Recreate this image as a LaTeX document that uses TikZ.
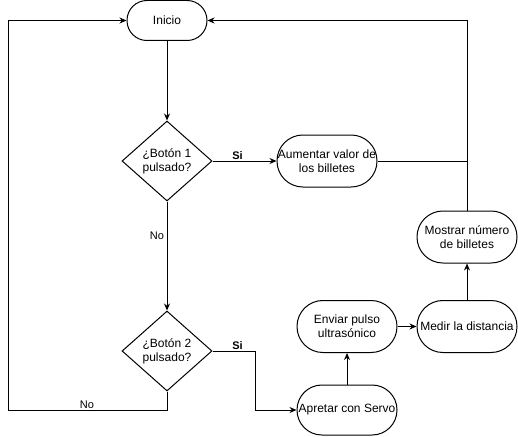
\documentclass[tikz,border=0pt]{standalone}
\usepackage{fontspec}
\setmainfont{Liberation Sans}
\usetikzlibrary{shapes.geometric,arrows.meta}

\begin{document}
\begin{tikzpicture}[x=1pt,y=-1pt,line width=1pt,
  terminal/.style={draw,rectangle,rounded corners=25.9pt,minimum width=100pt,minimum height=52pt,inner sep=0pt,align=center,font=\fontsize{12}{14}\selectfont},
  decision/.style={draw,diamond,aspect=1,minimum width=90pt,minimum height=80pt,inner sep=0pt,align=center,font=\fontsize{12}{14}\selectfont},
  etiq/.style={inner sep=0pt,font=\fontsize{11}{13}\selectfont},
  arr/.style={-{Stealth[length=7pt,width=6pt]}}]
\useasboundingbox (0,0) rectangle (518,436);
% nodos
\node[terminal,minimum width=80pt,minimum height=40pt,rounded corners=19.9pt] (inicio) at (167,20.5) {Inicio};
\node[decision] (boton1) at (167,161) {¿Botón 1\\pulsado?};
\node[terminal] (aumentar) at (327,161) {Aumentar valor de\\los billetes};
\node[decision] (boton2) at (167,351) {¿Botón 2\\pulsado?};
\node[terminal,minimum height=50pt,rounded corners=24.9pt] (apretar) at (347,410) {Apretar con Servo};
\node[terminal] (enviar) at (347,326.5) {Enviar pulso\\ultrasónico};
\node[terminal] (medir) at (467,326.5) {Medir la distancia};
\node[terminal] (mostrar) at (467,237) {Mostrar número\\de billetes};
% etiquetas
\node[etiq,font=\fontsize{11}{13}\selectfont\bfseries] (si1) at (237.5,156) {Si};
\node[etiq,font=\fontsize{11}{13}\selectfont\bfseries] (si2) at (237.5,346) {Si};
\node[etiq] (no1) at (157,236) {No};
\node[etiq] (no2) at (87,405) {No};
\coordinate (codo) at (255,351);
\coordinate (retorno) at (8,410);
% conexiones
\draw[arr] (inicio) -- (boton1);
\draw[arr] (boton1) -- (aumentar);
\draw[arr] (boton1) -- (boton2);
\draw[arr] (boton2.east) -- (codo) |- (apretar.west);
\draw[arr] (boton2.south) |- (retorno) |- (inicio.west);
\draw[arr] (apretar) -- (enviar);
\draw[arr] (enviar) -- (medir);
\draw[arr] (medir) -- (mostrar);
\draw[arr] (mostrar.north) |- (inicio.east);
\draw (aumentar.east) -- (aumentar.east -| mostrar.north);
\end{tikzpicture}
\end{document}
